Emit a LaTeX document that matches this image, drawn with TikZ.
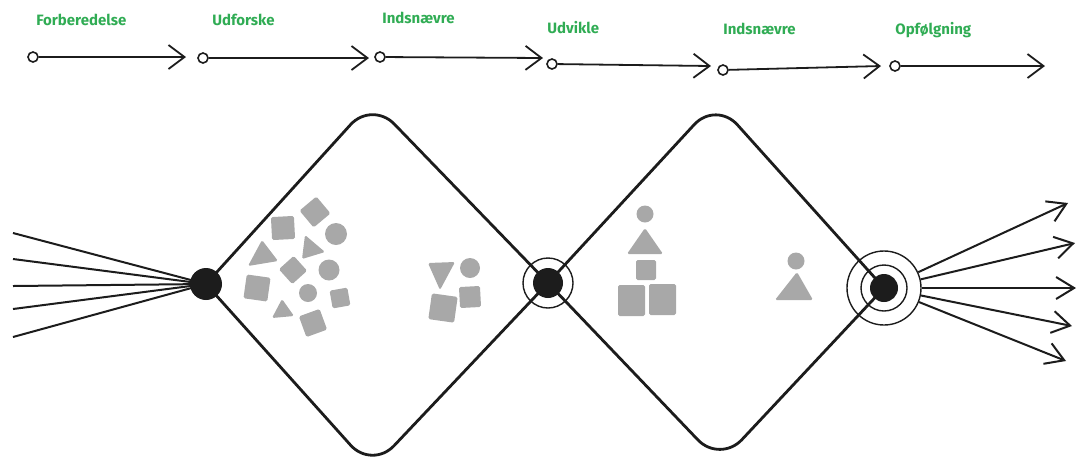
\documentclass[tikz,border=0pt]{standalone}
\usepackage{fontspec}
\setsansfont{Fira Sans}
\usetikzlibrary{arrows.meta}
\definecolor{phasegreen}{RGB}{48,172,84}
\definecolor{piecegray}{RGB}{168,168,168}
\definecolor{ink}{RGB}{28,28,28}

\begin{document}
\begin{tikzpicture}[x=0.5pt,y=-0.5pt,
    phase/.style={anchor=base west, inner sep=0pt, text=phasegreen, font=\sffamily\bfseries\fontsize{7.5}{9}\selectfont},
    startdot/.style={circle, draw=ink, fill=white, line width=0.8pt, inner sep=0pt, minimum size=5pt},
    flow/.style={draw=ink, line width=0.9pt, -{Straight Barb[length=8pt,width=12pt]}},
    hub/.style={circle, fill=ink, inner sep=0pt},
    ring/.style={circle, draw=ink, line width=0.7pt, inner sep=0pt},
    frame/.style={draw=ink, line width=1.4pt, rounded corners=16pt},
    fan/.style={draw=ink, line width=1pt},
    piece/.style={fill=piecegray, rounded corners=0.8pt}]

    \useasboundingbox (0,0) rectangle (1077,457);

    \foreach \i/\x/\y/\txt in {1/36/25/Forberedelse, 2/212/25/Udforske, 3/382/23/Indsnævre,
                               4/547/33/Udvikle, 5/723/34/Indsnævre, 6/895/34/Opfølgning}
      \node[phase] (t\i) at (\x,\y) {\txt};

    \foreach \i/\xa/\ya/\xb/\yb in {1/33/57/186/57, 2/203/58/369/58, 3/380/57/543/58,
                                    4/552/64/711/66, 5/723/70/881/66, 6/895/66/1045/66} {
      \node[startdot] (p\i) at (\xa,\ya) {};
      \coordinate (q\i) at (\xb,\yb);
      \draw[flow] (p\i) -- (q\i);
    }

    \node[hub, minimum size=16pt] (start) at (206,284) {};
    \node[hub, minimum size=15pt] (mid) at (548,283) {};
    \node[ring, minimum size=25pt] (midring) at (mid) {};
    \node[hub, minimum size=14pt] (finish) at (884,288) {};
    \node[ring, minimum size=23pt] (innerring) at (finish) {};
    \node[ring, minimum size=37pt] (outerring) at (finish) {};

    \coordinate (top1) at (372,101);
    \coordinate (bot1) at (372,469);
    \coordinate (top2) at (716,101);
    \coordinate (bot2) at (720,463);

    \draw[frame] (start.center) -- (top1) -- (mid.center);
    \draw[frame] (start.center) -- (bot1) -- (mid.center);
    \draw[frame] (mid.center) -- (top2) -- (finish.center);
    \draw[frame] (mid.center) -- (bot2) -- (finish.center);

    \foreach \i/\y in {1/233, 2/259, 3/286, 4/309, 5/337} {
      \coordinate (s\i) at (13,\y);
      \draw[fan] (s\i) -- (start.center);
    }

    \foreach \i/\x/\y in {1/1068/203, 2/1075/243, 3/1076/288, 4/1072/326, 5/1066/361} {
      \coordinate (e\i) at (\x,\y);
      \draw[fan, -{Straight Barb[length=9pt,width=11pt]}] (outerring) -- (e\i);
    }

    \foreach \x/\y/\h/\a in {315/212/11/40, 283/228/11.5/3, 293/270/10/42, 257/288/12/-8,
                             340/298/9/10, 313/323/11/20, 443/308/13/-8, 470/297/10.5/3, 646/270/10/0}
      \fill[piece, shift={(\x,\y)}, rotate=\a] (-\h,-\h) rectangle (\h,\h);

    \foreach \x/\y/\r in {336/234/11, 329/270/10.5, 308/293/9, 470/268/10, 645/214/8.5, 796/261/8.5}
      \fill[piece] (\x,\y) circle (\r);

    \fill[piece] (248,266) -- (278,261) -- (262,240) -- cycle;
    \fill[piece] (305,235) -- (325,252) -- (302,259) -- cycle;
    \fill[piece] (282,299) -- (294,316) -- (272,318) -- cycle;
    \fill[piece] (428,263) -- (455,262) -- (440,290) -- cycle;
    \fill[piece] (645,228) -- (663,254) -- (627,254) -- cycle;
    \fill[piece] (797,272) -- (813,300) -- (775,300) -- cycle;
    \fill[piece] (618,285) rectangle (645,316);
    \fill[piece] (649,284) rectangle (676,315);
  \end{tikzpicture}
\end{document}
